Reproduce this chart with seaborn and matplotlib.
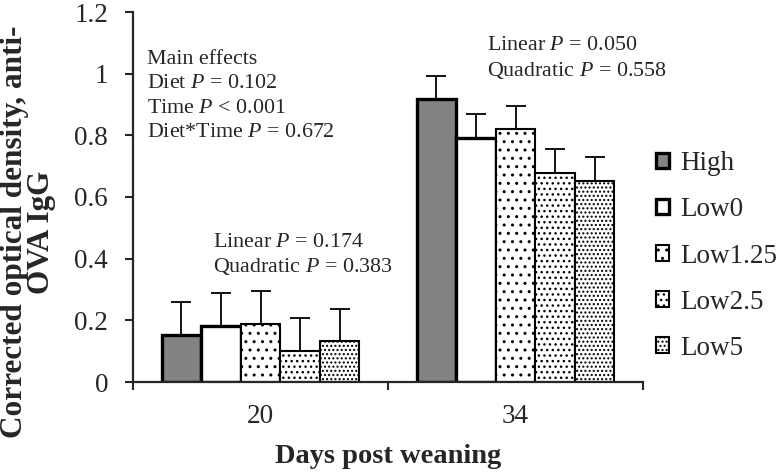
import pandas as pd
import numpy as np
import matplotlib
matplotlib.use("Agg")
import matplotlib.pyplot as plt
import seaborn as sns

# 數據
days = ["20", "34"]
diets = ["High", "Low0", "Low1.25", "Low2.5", "Low5"]
high = [0.153, 0.917]
low0 = [0.182, 0.792]
low125 = [0.188, 0.821]
low25 = [0.100, 0.679]
low5 = [0.134, 0.653]
err_high = [0.106, 0.077]
err_low0 = [0.106, 0.076]
err_low125 = [0.107, 0.075]
err_low25 = [0.107, 0.077]
err_low5 = [0.103, 0.077]
yticks = [0, 0.2, 0.4, 0.6, 0.8, 1.0, 1.2]
ytick_labels = ["0", "0.2", "0.4", "0.6", "0.8", "1", "1.2"]

values = [high, low0, low125, low25, low5]
errors = [err_high, err_low0, err_low125, err_low25, err_low5]

rows = []
for d, vals, errs in zip(diets, values, errors):
    for day, v, e in zip(days, vals, errs):
        rows.append({"day": day, "diet": d, "value": v, "err": e})
df = pd.DataFrame(rows)

sns.set_style("ticks")
plt.rcParams["font.family"] = ["Liberation Serif", "DejaVu Serif"]
plt.rcParams["mathtext.fontset"] = "custom"
plt.rcParams["mathtext.rm"] = "Liberation Serif"
plt.rcParams["mathtext.it"] = "Liberation Serif:style=italic"
plt.rcParams["hatch.linewidth"] = 1.0
plt.rcParams["hatch.color"] = "black"

fig = plt.figure(figsize=(7.8, 4.73), dpi=100)
ax = fig.add_axes([133 / 780, 91 / 473, 510 / 780, 370 / 473])

colors = ["#838383", "white", "white", "white", "white"]
sns.barplot(data=df, x="day", y="value", hue="diet", hue_order=diets, order=days,
            palette=colors, edgecolor="black", errorbar=None, width=0.776,
            ax=ax, legend=False)

hatches = [None, None, "..", "...", "...."]
lws = [2.4, 2.4, 1.5, 1.5, 1.5]
for cont, h, lw, errs in zip(ax.containers, hatches, lws, errors):
    for bar, e in zip(cont, errs):
        bar.set_linewidth(lw)
        bar.set_edgecolor("black")
        if h:
            bar.set_hatch(h)
        xc = bar.get_x() + bar.get_width() / 2
        ax.errorbar(xc, bar.get_height(), yerr=[[0], [e]], fmt="none",
                    ecolor="black", elinewidth=1.3, capsize=7, capthick=1.3, zorder=1)

ax.set_ylim(0, 1.2)
ax.set_xlim(-0.5, 1.5)
ax.set_yticks(yticks)
ax.set_yticklabels(ytick_labels, fontsize=19.5)
ax.set_xticks([0, 1])
ax.set_xticklabels(days, fontsize=19.5)
ax.tick_params(axis="x", which="major", length=0, pad=16)
ax.set_xticks([-0.5, 0.5, 1.5], minor=True)
ax.tick_params(axis="x", which="minor", length=5.5, width=1.5, direction="out")
ax.tick_params(axis="y", length=5.5, width=1.5, direction="out", pad=12.5)
sns.despine(ax=ax)
for s in ["left", "bottom"]:
    ax.spines[s].set_linewidth(1.6)

ax.set_xlabel("Days post weaning", fontsize=20.5, fontweight="bold", labelpad=10.5)
ax.set_ylabel("")
fig.text(28 / 780, 1 - 232 / 473, "Corrected optical density, anti-\nOVA IgG",
         rotation=90, fontsize=22.5, fontweight="bold", ha="center", va="center",
         multialignment="center", linespacing=0.95)

# 註解
fs = 15.8
main_txt = ["Main effects", "Diet $P$ = 0.102", "Time $P$ < 0.001", "Diet*Time $P$ = 0.672"]
for t, y in zip(main_txt, [0.872, 0.806, 0.740, 0.674]):
    ax.text(0.0275, y, t, transform=ax.transAxes, fontsize=fs, va="center", ha="left")
ax.text(0.157, 0.378, "Linear $P$ = 0.174", transform=ax.transAxes, fontsize=fs, va="center")
ax.text(0.157, 0.313, "Quadratic $P$ = 0.383", transform=ax.transAxes, fontsize=fs, va="center")
ax.text(0.694, 0.910, "Linear $P$ = 0.050", transform=ax.transAxes, fontsize=fs, va="center")
ax.text(0.694, 0.842, "Quadratic $P$ = 0.558", transform=ax.transAxes, fontsize=fs, va="center")

handles = [cont[0] for cont in ax.containers]
fig.legend(handles, diets, loc="center left", bbox_to_anchor=(645 / 780, 1 - 256 / 473),
           frameon=False, fontsize=19.5, handlelength=0.5, handleheight=0.5,
           handletextpad=0.4, labelspacing=0.78, borderaxespad=0)

fig.savefig("out.png", dpi=100)
